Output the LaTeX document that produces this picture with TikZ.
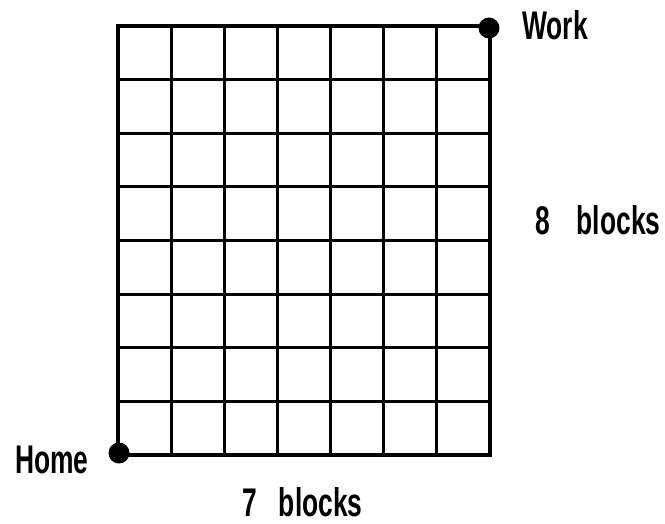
\documentclass[tikz,border=0pt]{standalone}
\usepackage{fontspec}
\newfontfamily\labfont[FakeStretch=0.66]{Liberation Sans}
\begin{document}
\begin{tikzpicture}[x=1pt,y=-1pt,
  lab/.style={font=\labfont\bfseries\fontsize{40}{44}\selectfont, inner sep=0pt, anchor=base west},
  gridline/.style={line width=3pt, line cap=round},
  dot/.style={circle, fill=black, inner sep=0pt, minimum size=21pt}]
\useasboundingbox (0,0) rectangle (665,524);
\foreach \i in {0,...,7}
  \draw[gridline] (118+\i*53.143,26) -- (118+\i*53.143,455);
\foreach \j in {0,...,8}
  \draw[gridline] (118,26+\j*53.625) -- (490,26+\j*53.625);
\draw[line width=3.5pt] (118,26) rectangle (490,455);
\node[dot] (work) at (489,28) {};
\node[dot] (home) at (119,453) {};
\node[lab] (worklab) at (522,40) {Work};
\node[lab] (homelab) at (15,473) {Home};
\node[lab] (eight) at (535,235) {8\hspace{27pt}blocks};
\node[lab] (seven) at (242,516) {7\hspace{22pt}blocks};
\end{tikzpicture}
\end{document}
